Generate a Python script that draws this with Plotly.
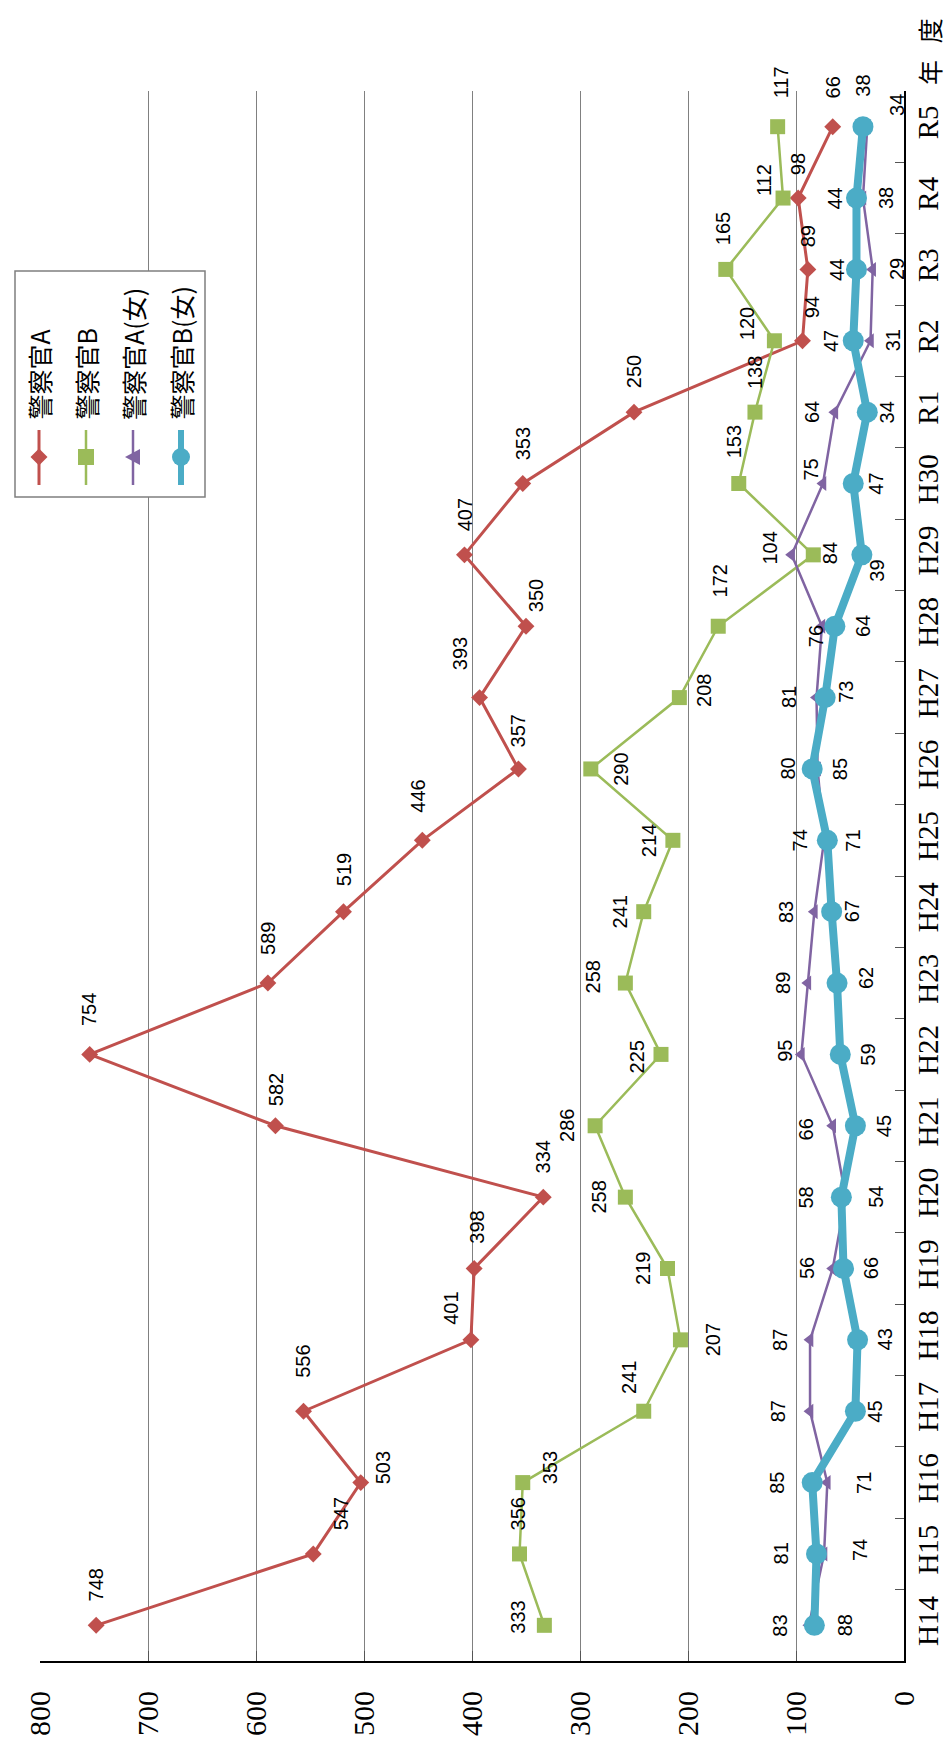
import plotly.graph_objects as go

# ---------------- data ----------------
years = ["H14", "H15", "H16", "H17", "H18", "H19", "H20", "H21", "H22", "H23", "H24",
         "H25", "H26", "H27", "H28", "H29", "H30", "R1", "R2", "R3", "R4", "R5"]
series_names = ["警察官A", "警察官B", "警察官A(女)", "警察官B(女)"]
police_a = [748, 547, 503, 556, 401, 398, 334, 582, 754, 589, 519, 446, 357, 393, 350, 407, 353, 250, 94, 89, 98, 66]
police_b = [333, 356, 353, 241, 207, 219, 258, 286, 225, 258, 241, 214, 290, 208, 172, 84, 153, 138, 120, 165, 112, 117]
police_a_f = [88, 74, 71, 87, 87, 66, 54, 66, 95, 89, 83, 74, 80, 81, 76, 104, 75, 64, 31, 29, 38, 34]
police_b_f = [83, 81, 85, 45, 43, 56, 58, 45, 59, 62, 67, 71, 85, 73, 64, 39, 47, 34, 47, 44, 44, 38]
value_ticks = [0, 100, 200, 300, 400, 500, 600, 700, 800]

# ---------------- label offsets (px, screen) ----------------
a_dx = [0, 28, 22, 0, -20, 2, 0, 0, 0, 0, 0, -4, 0, -20, 10, 0, 0, 0, 9, 1, 0, 0]
a_dy = [40, 40, 15, 50, 32, 41, 40, 36, 45, 45, 42, 44, 38, 44, 30, 40, 40, 40, 34, 33, 34, 39]
b_dx = [-26, -2, 27, -14, 32, -25, -26, -28, -24, -32, -24, -24, 30, 24, 2, 17, -5, 0, -28, -2, -19, 3]
b_dy = [8, 40, 15, 34, 0, 0, 0, 0, -3, 6, 0, 0, 0, 7, 45, 2, 42, 40, 17, 41, 18, 44]
af_dx = [36, 36, 36, -32, -30, 38, 30, -27, -16, -25, -29, -24, -30, -28, -6, -22, -13, -23, 22, 25, 23, 29]
af_dy = [0, 4, 0, 0, 0, 0, 0, -4, 4, 0, 0, 0, 0, 0, -10, 7, 14, 0, 0, 0, 0, 22]
bf_dx = [-34, -36, -36, 20, 27, -37, -35, 28, 28, 29, 20, 26, 28, 20, 28, 15, 22, 20, -22, -19, -21, 0]
bf_dy = [0, 0, 0, 0, 0, 0, 0, 0, 0, 5, 0, 0, 0, 6, 0, -16, 0, 0, 0, 0, 0, 41]

# ---------------- styles ----------------
W, H = 952, 1753
ML, MR, MT, MB = 32, 56, 83, 100
PW, PH = W - ML - MR, H - MT - MB
colors = ["#C0504D", "#9BBB59", "#8064A2", "#4BACC6"]
symbols = ["diamond", "square", "triangle-left", "circle"]
msizes = [13, 15, 13, 21]
lwidths = [3, 2.5, 2.5, 8]
serif = "Liberation Serif, Times New Roman, serif"
sans = "Liberation Sans, Arial, sans-serif"
cjk = "Noto Sans CJK JP, sans-serif"

all_values = [police_a, police_b, police_a_f, police_b_f]
all_dx = [a_dx, b_dx, af_dx, bf_dx]
all_dy = [a_dy, b_dy, af_dy, bf_dy]

fig = go.Figure()
for i, vals in enumerate(all_values):
    fig.add_trace(go.Scatter(
        x=vals, y=years, mode="lines+markers", name=series_names[i],
        line=dict(color=colors[i], width=lwidths[i]),
        marker=dict(symbol=symbols[i], size=msizes[i], color=colors[i], line=dict(width=0)),
        cliponaxis=False, showlegend=False, hoverinfo="skip"))

annotations = []
for i, vals in enumerate(all_values):
    for j, v in enumerate(vals):
        annotations.append(dict(
            x=v, y=years[j], xref="x", yref="y", text=str(v), showarrow=False,
            textangle=-90, xshift=all_dx[i][j], yshift=all_dy[i][j],
            font=dict(family=sans, size=20, color="black")))


def PX(px):
    return (px - ML) / PW


def PY(py):
    return (MT + PH - py) / PH


# "年度" axis title
annotations.append(dict(x=PX(921), y=PY(44), xref="paper", yref="paper", text="年\u2002\u2006度",
                        showarrow=False, textangle=-90, xanchor="center", yanchor="middle",
                        font=dict(family=cjk, size=25, color="black")))

# custom rotated legend
shapes = [dict(type="rect", xref="paper", yref="paper", x0=PX(7), x1=PX(197), y0=PY(489), y1=PY(263),
               fillcolor="white", line=dict(color="#7f7f7f", width=1.5), layer="above")]
cols = [31, 78, 125, 173]
for i, cx in enumerate(cols):
    annotations.append(dict(x=PX(cx), y=PY(414), xref="paper", yref="paper", text=series_names[i],
                            showarrow=False, textangle=-90, xanchor="center", yanchor="bottom",
                            font=dict(family=cjk, size=25, color="black")))
    shapes.append(dict(type="line", xref="paper", yref="paper", x0=PX(cx), x1=PX(cx),
                       y0=PY(422), y1=PY(477), line=dict(color=colors[i], width=lwidths[i] if i < 3 else 6),
                       layer="above"))
    my = 449
    if symbols[i] == "diamond":
        path = (f"M {PX(cx)},{PY(my-8.5)} L {PX(cx+8.5)},{PY(my)} L {PX(cx)},{PY(my+8.5)} "
                f"L {PX(cx-8.5)},{PY(my)} Z")
        shapes.append(dict(type="path", xref="paper", yref="paper", path=path,
                           fillcolor=colors[i], line=dict(width=0), layer="above"))
    elif symbols[i] == "square":
        shapes.append(dict(type="rect", xref="paper", yref="paper", x0=PX(cx-8), x1=PX(cx+8),
                           y0=PY(my+8), y1=PY(my-8), fillcolor=colors[i], line=dict(width=0), layer="above"))
    elif symbols[i] == "triangle-left":
        path = (f"M {PX(cx-8)},{PY(my)} L {PX(cx+7)},{PY(my-8)} L {PX(cx+7)},{PY(my+8)} Z")
        shapes.append(dict(type="path", xref="paper", yref="paper", path=path,
                           fillcolor=colors[i], line=dict(width=0), layer="above"))
    else:
        shapes.append(dict(type="circle", xref="paper", yref="paper", x0=PX(cx-9), x1=PX(cx+9),
                           y0=PY(my+9), y1=PY(my-9), fillcolor=colors[i], line=dict(width=0), layer="above"))

fig.update_layout(
    width=W, height=H, autosize=False,
    margin=dict(l=ML, r=MR, t=MT, b=MB, pad=0),
    paper_bgcolor="white", plot_bgcolor="white",
    showlegend=False,
    annotations=annotations, shapes=shapes,
    xaxis=dict(range=[800, 0], tickvals=value_ticks, ticktext=[str(t) for t in value_ticks],
               showgrid=True, gridcolor="#808080", gridwidth=1, zeroline=False,
               showline=True, linecolor="black", linewidth=2, ticks="inside", ticklen=10,
               tickcolor="#555555", tickangle=-90, ticklabelstandoff=16,
               tickfont=dict(family=serif, size=30, color="black"), automargin=False, fixedrange=True),
    yaxis=dict(type="category", categoryorder="array", categoryarray=years, range=[-0.5, len(years) - 0.5],
               side="right", showgrid=False, zeroline=False, showline=True, linecolor="black", linewidth=2,
               ticks="inside", tickson="boundaries", ticklen=9, tickcolor="#555555",
               tickangle=-90, ticklabelstandoff=-3,
               tickfont=dict(family=serif, size=29, color="black"), automargin=False, fixedrange=True),
)

fig.write_html("out.html", config={"displayModeBar": False})
